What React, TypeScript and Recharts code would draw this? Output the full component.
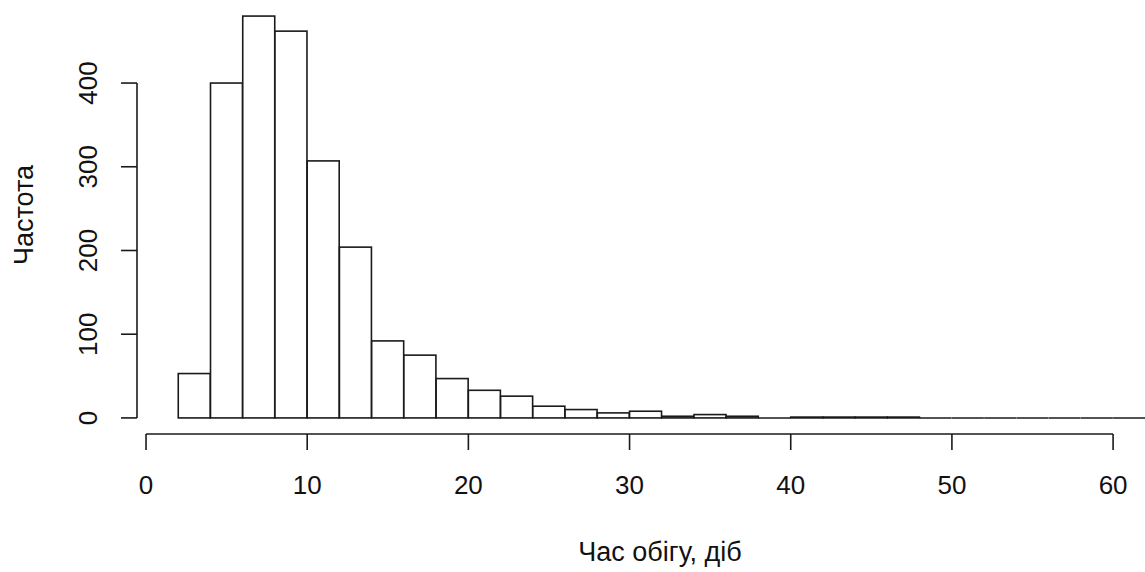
import React from 'react';
import { BarChart, Bar, XAxis, YAxis, ReferenceLine, Label } from 'recharts';

// bin midpoints (bins of width 2, from 2 to 62)
const binMids = [3, 5, 7, 9, 11, 13, 15, 17, 19, 21, 23, 25, 27, 29, 31, 33, 35, 37, 39, 41, 43, 45, 47, 49, 51, 53, 55, 57, 59, 61];
const counts = [53, 400, 480, 462, 307, 204, 92, 75, 47, 33, 26, 14, 10, 6, 8, 2, 4, 2, 0, 1, 1, 1, 1, 0, 0, 0, 0, 0, 0, 0];
const xTicks = [0, 10, 20, 30, 40, 50, 60];
const yTicks = [0, 100, 200, 300, 400];
const xMin = -0.56;
const xMax = 61.98;
const yMin = -19.2;
const yMax = 499.2;

const data = binMids.map((m, i) => ({ mid: m, count: counts[i] }));

const FONT = '"Liberation Sans", Arial, sans-serif';
const STROKE = '#1a1a1a';

const HistShape = (props: any) => {
  const { x, y, width, height } = props;
  if (!height || height < 0.5) {
    return <line x1={x} x2={x + width} y1={y + (height || 0)} y2={y + (height || 0)} stroke={STROKE} strokeWidth={1.6} />;
  }
  return <rect x={x} y={y} width={width} height={height} fill="#fff" stroke={STROKE} strokeWidth={1.6} />;
};

const XTick = (props: any) => {
  const { x, y, payload } = props;
  return (
    <text x={x} y={y} dy={42} textAnchor="middle" fontFamily={FONT} fontSize={26} fill="#111">
      {payload.value}
    </text>
  );
};

const YTick = (props: any) => {
  const { x, y, payload } = props;
  const tx = x - 22;
  return (
    <text x={tx} y={y} textAnchor="middle" fontFamily={FONT} fontSize={26} fill="#111" transform={`rotate(-90, ${tx}, ${y})`}>
      {payload.value}
    </text>
  );
};

export default function App() {
  return (
    <div style={{ position: 'absolute', left: 0, top: 0, width: 1145, height: 572, background: '#fff' }}>
      <BarChart
        width={1145}
        height={572}
        data={data}
        margin={{ top: 0, right: 0, left: 0, bottom: 0 }}
        barCategoryGap={0}
        barGap={0}
      >
        <XAxis
          type="number"
          dataKey="mid"
          domain={[xMin, xMax]}
          allowDataOverflow
          ticks={xTicks}
          interval={0}
          height={138}
          axisLine={false}
          tickSize={16}
          tickLine={{ stroke: STROKE, strokeWidth: 1.6 }}
          tick={<XTick />}
        >
          <Label
            content={() => (
              <text x={660} y={561} textAnchor="middle" fontFamily={FONT} fontSize={27} fill="#111">
                Час обігу, діб
              </text>
            )}
          />
        </XAxis>
        <YAxis
          type="number"
          domain={[yMin, yMax]}
          allowDataOverflow
          ticks={yTicks}
          interval={0}
          width={137}
          axisLine={false}
          tickSize={16}
          tickLine={{ stroke: STROKE, strokeWidth: 1.6 }}
          tick={<YTick />}
        >
          <Label
            content={() => (
              <text x={33} y={215} textAnchor="middle" fontFamily={FONT} fontSize={27} fill="#111" transform="rotate(-90, 33, 215)">
                Частота
              </text>
            )}
          />
        </YAxis>
        <Bar dataKey="count" isAnimationActive={false} shape={<HistShape />} />
        <ReferenceLine segment={[{ x: 0, y: yMin }, { x: 60, y: yMin }]} stroke={STROKE} strokeWidth={1.6} ifOverflow="visible" />
        <ReferenceLine segment={[{ x: xMin, y: 0 }, { x: xMin, y: 400 }]} stroke={STROKE} strokeWidth={1.6} ifOverflow="visible" />
      </BarChart>
    </div>
  );
}
